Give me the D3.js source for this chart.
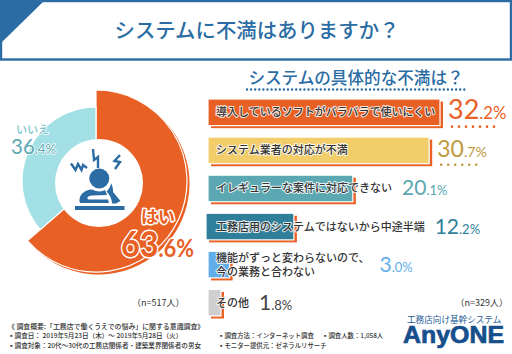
<!DOCTYPE html>
<html><head><meta charset="utf-8">
<script src="https://cdn.jsdelivr.net/npm/d3@7"></script>
<style>html,body{margin:0;padding:0;background:#fff}svg{display:block}
text{font-family:"Noto Sans CJK JP","Noto Sans",sans-serif}</style></head><body>
<script>
const title="システムに不満はありますか？";
const subtitle="システムの具体的な不満は？";
const pieLabels=["はい","いいえ"];
const pieValues=[63.6,36.4];
const barLabels=[["導入しているソフトがバラバラで使いにくい"],["システム業者の対応が不満"],["イレギュラーな案件に対応できない"],["工務店用のシステムではないから中途半端"],["機能がずっと変わらないので、","今の業務と合わない"],["その他"]];
const barValues=[32.2,30.7,20.1,12.2,3.0,1.8];
const barColors=["#e86024","#f2cd6a","#5ba8b2","#2f7f9b","#62aeea","#cfcfcf"];
const valueColors=["#e86024","#c19a3e","#5ba8b2","#2f7f9b","#62aeea","#444"];
const valueSizes=[27,23,21,21,21,21];
const footer=["《 調査概要:「工務店で働くうえでの悩み」に関する意識調査》","▪調査日： 2019年5月23日（木）～ 2019年5月28日（火）","▪調査対象：20代～30代の工務店関係者・建築業界関係者の男女"];
const footer2=["▪調査方法：インターネット調査","▪モニター提供元：ゼネラルリサーチ"];
const footer3="▪調査人数：1,058人";

const blue="#2a6ca3",orange="#e86024";
const svg=d3.select("body").append("svg").attr("width",512).attr("height",354);
svg.append("rect").attr("width",512).attr("height",354).attr("fill","#fff");

// header
svg.append("rect").attr("x",1).attr("y",1).attr("width",510).attr("height",58.5).attr("fill","#fff").attr("stroke",blue).attr("stroke-width",2.4);
svg.append("path").attr("d","M0,0H45L2,42H0Z").attr("fill",blue);
svg.append("text").attr("x",257).attr("y",38).attr("text-anchor","middle").attr("font-size",20.4).attr("fill",blue).attr("font-weight",500).text(title);
svg.append("text").attr("x",356).attr("y",84).attr("text-anchor","middle").attr("font-size",16.6).attr("fill",blue).attr("font-weight",500).text(subtitle);
svg.append("line").attr("x1",247).attr("x2",465).attr("y1",89.5).attr("y2",89.5).attr("stroke",blue).attr("stroke-width",2.4).attr("stroke-linecap","round").attr("stroke-dasharray","0 4.1");

// donut
const cx=96,cy=181;
const pie=d3.pie().sort(null).startAngle(0).endAngle(2*Math.PI)(pieValues);
const outerR=d3.scaleOrdinal().domain(pieLabels).range([91,74]);
const arc=d3.arc().innerRadius(30).outerRadius(d=>outerR(pieLabels[d.index]));
const colors=[orange,"#a3e0e6"];
const g=svg.append("g").attr("transform",`translate(${cx},${cy})`);
g.selectAll(".sh").data(pie).join("path").attr("d",arc).attr("fill",orange).attr("transform","translate(2.5,2.5)");
g.selectAll(".sl").data(pie).join("path").attr("d",arc).attr("fill",(d,i)=>colors[i]).attr("stroke","#fff").attr("stroke-width",1.2);
svg.append("circle").attr("cx",99).attr("cy",183).attr("r",44).attr("fill","#fff");

// icon
const ic=svg.append("g").attr("fill",blue);
ic.append("circle").attr("cx",99.3).attr("cy",178.5).attr("r",10);
ic.append("rect").attr("x",75).attr("y",206).attr("width",49.5).attr("height",4);
ic.append("path").attr("d","M79.5,201.5C79,194 85,190 92,189.5C97,192 102,192 105,190L107,195L92,195.5C87,196 86,199 89,199.5L108,199.5L109,203H80Z");
ic.append("path").attr("d","M111,183C113,186 113,190 113,192L120.5,201L116,203.5L112,203.5C112,198 109,194 106.5,191.5C109,189 111,186 111,183Z");
ic.append("g").attr("fill","none").attr("stroke",blue).attr("stroke-width",2.4).attr("stroke-linejoin","miter").selectAll("path")
  .data(["M71,163.5L75.5,170L78,164L81.5,170L83,165L87,168","M93,149L94,160L98,157L98,168","M120,155L114.5,161L120,162L115,169"]).join("path").attr("d",d=>d);

// pie labels
function pct(parent,x,y,big,small,fs1,fs2,color,halo){
  const t=parent.append("text").attr("x",x).attr("y",y).attr("fill",color).style("font-family","Lato,'Noto Sans',sans-serif");
  if(halo) t.attr("stroke","#fff").attr("stroke-width",halo).attr("paint-order","stroke").attr("stroke-linejoin","round");
  t.append("tspan").attr("font-size",fs1).text(big);
  t.append("tspan").attr("font-size",fs2).text(small);
  return t;
}
svg.append("text").attr("x",16).attr("y",134).attr("font-size",11).attr("font-weight",500).attr("fill","#7cc4cc").attr("stroke","#fff").attr("stroke-width",1.5).attr("paint-order","stroke").text(pieLabels[1]);
const fmt=v=>{const [a,b]=v.toFixed(1).split(".");return [a,"."+b+"%"]};
let p=fmt(pieValues[1]);
pct(svg,11,154,p[0],p[1],20.5,13,"#5ba8b2",1.5);
svg.append("text").attr("x",141).attr("y",223).attr("font-size",17).attr("font-weight",700).attr("fill",orange).attr("stroke","#fff").attr("stroke-width",3).attr("paint-order","stroke").attr("stroke-linejoin","round").text(pieLabels[0]);
p=fmt(pieValues[0]);
pct(svg,121,257,p[0],p[1],36,24,orange,3).attr("font-weight",700).attr("textLength",73).attr("lengthAdjust","spacingAndGlyphs");
svg.append("text").attr("x",132).attr("y",306).attr("font-size",9).attr("fill","#333").text("（n=517人）");

// bars
const x=d3.scaleLinear().domain([0,32.2]).range([0,232]);
const y=d3.scaleBand().domain(d3.range(barValues.length)).range([99,316]).paddingInner(0.3);
const x0=i=>i===3?206:208;
const bars=svg.append("g");
bars.selectAll(".o").data(barValues).join("rect")
  .attr("x",(d,i)=>x0(i)+3).attr("y",(d,i)=>y(i)+2.5).attr("width",x).attr("height",y.bandwidth()).attr("fill",orange);
bars.selectAll(".b").data(barValues).join("rect")
  .attr("x",(d,i)=>x0(i)).attr("y",(d,i)=>y(i)).attr("width",x).attr("height",y.bandwidth())
  .attr("fill",(d,i)=>barColors[i]).attr("stroke","#fff").attr("stroke-width",1.2);

barValues.forEach((v,i)=>{
  const lines=barLabels[i],mid=y(i)+y.bandwidth()/2;
  let end=0;
  lines.forEach((s,j)=>{
    const t=svg.append("text").attr("x",216).attr("y",mid+4+(j-(lines.length-1)/2)*14)
      .attr("font-size",11).attr("font-weight",500).attr("fill","#333").attr("stroke","#fff").attr("stroke-width",2).attr("stroke-opacity",.85)
      .attr("paint-order","stroke").attr("stroke-linejoin","round").text(s);
    end=Math.max(end,216+t.node().getComputedTextLength());
  });
  const vx=Math.max(x0(i)+x(v)+8,end+10);
  const f=fmt(v);
  pct(svg,vx,mid+7,f[0],f[1],valueSizes[i],valueSizes[i]*0.62,valueColors[i]);
  if(i<2){
    svg.append("line").attr("x1",vx+4).attr("x2",vx+(i==0?47:42)).attr("y1",y(i)+y.bandwidth()+1).attr("y2",y(i)+y.bandwidth()+1)
      .attr("stroke",valueColors[i]).attr("stroke-width",2.6).attr("stroke-linecap","round").attr("stroke-dasharray","0 7");
  }
});
svg.append("text").attr("x",508).attr("y",306).attr("text-anchor","end").attr("font-size",9).attr("fill","#333").text("（n=329人）");

// footer
footer.forEach((s,i)=>svg.append("text").attr("x",8).attr("y",[328.5,338,347.5][i]).attr("font-size",i?6.6:6.9).attr("font-weight",500).attr("fill","#333").text(s));
footer2.forEach((s,i)=>svg.append("text").attr("x",218).attr("y",[338,347.5][i]).attr("font-size",6.4).attr("font-weight",500).attr("fill","#333").text(s));
svg.append("text").attr("x",322).attr("y",338).attr("font-size",6.4).attr("font-weight",500).attr("fill","#333").text(footer3);

// logo
svg.append("text").attr("x",407).attr("y",322.5).attr("font-size",8.6).attr("fill","#1c5a94").text("工務店向け基幹システム");
svg.append("text").attr("x",403).attr("y",343).attr("font-size",23.5).attr("font-weight",700).attr("fill","#174f8c").attr("stroke","#174f8c").attr("stroke-width",.7).attr("textLength",101).attr("lengthAdjust","spacingAndGlyphs").style("font-family","'Liberation Sans',sans-serif").text("AnyONE");
</script></body></html>
